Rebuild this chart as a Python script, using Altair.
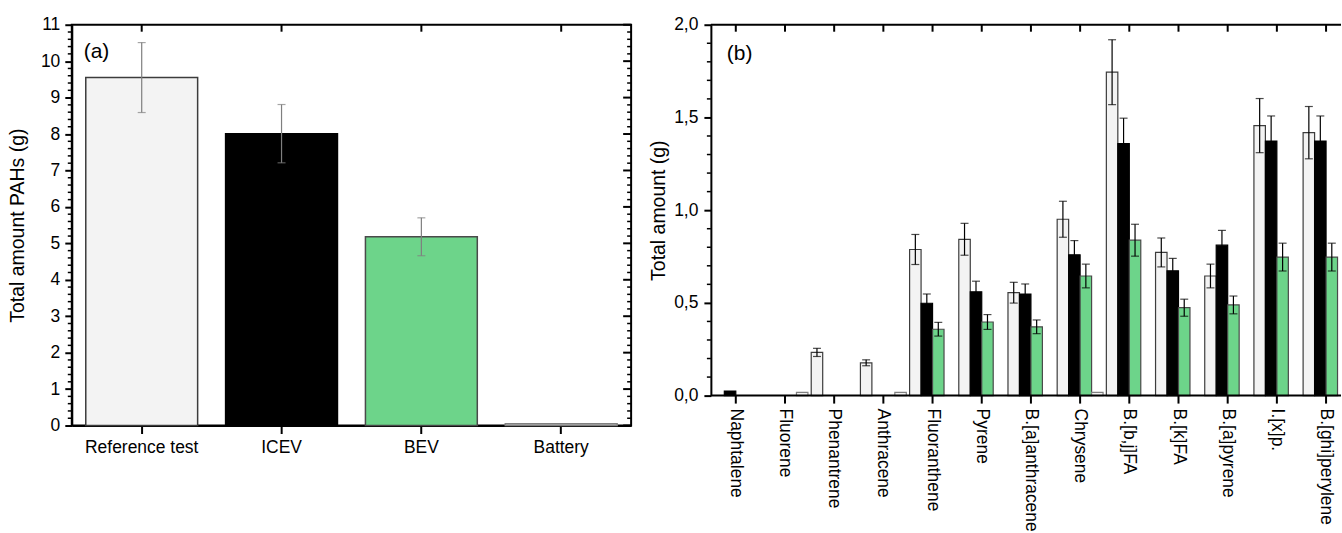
import altair as alt
import pandas as pd

# ---------------- Panel (a): total PAHs ----------------
groups = ["Reference test", "ICEV", "BEV", "Battery"]
total_vals = [9.55, 8.01, 5.18, 0.05]
total_err = [0.96, 0.80, 0.52, 0.0]

# ---------------- Panel (b): individual PAHs ----------------
compounds = ["Naphtalene", "Fluorene", "Phenantrene", "Anthracene", "Fluoranthene",
             "Pyrene", "B.[a]anthracene", "Chrysene", "B.[b,j]FA", "B.[k]FA",
             "B.[a]pyrene", "I.[x]p.", "B.[ghi]perylene"]
series = ["Reference test", "ICEV", "BEV", "Battery"]
ref_vals = [0.0, 0.0, 0.233, 0.177, 0.788, 0.843, 0.555, 0.951, 1.744, 0.772, 0.645, 1.456, 1.418]
ref_err = [0.0, 0.0, 0.022, 0.016, 0.081, 0.086, 0.056, 0.097, 0.175, 0.078, 0.064, 0.146, 0.141]
icev_vals = [0.025, 0.0, 0.0, 0.0, 0.498, 0.560, 0.548, 0.759, 1.359, 0.673, 0.811, 1.373, 1.373]
icev_err = [0.0, 0.0, 0.0, 0.0, 0.050, 0.057, 0.054, 0.077, 0.137, 0.067, 0.080, 0.135, 0.135]
bev_vals = [0.0, 0.0, 0.0, 0.0, 0.358, 0.397, 0.371, 0.645, 0.838, 0.474, 0.489, 0.747, 0.747]
bev_err = [0.0, 0.0, 0.0, 0.0, 0.037, 0.040, 0.037, 0.064, 0.086, 0.046, 0.048, 0.075, 0.075]
batt_vals = [0.0, 0.018, 0.0, 0.018, 0.0, 0.0, 0.0, 0.018, 0.0, 0.0, 0.0, 0.0, 0.0]
batt_err = [0.0] * 13

yticks_a = list(range(12))
yticks_b = [0.0, 0.5, 1.0, 1.5, 2.0]
minor_a = [round(i * 0.2, 1) for i in range(56) if i % 5 != 0]
minor_b = [round(i * 0.1, 1) for i in range(20) if i % 5 != 0]

fills = ["#f3f3f3", "#000000", "#6dd48a", "#f3f3f3"]
strokes_a = ["#3c3c3c", "#000000", "#4a4a4a", "#808080"]
strokes_b = ["#1e1e1e", "#000000", "#505050", "#333333"]

FONT = "Liberation Sans"
WA, HA = 561, 402
WB, HB = 632, 372        # visible part of panel (b); its category scale runs on past the edge
WB_FULL = 642

# ---------------- build panel (a) ----------------
dfa = pd.DataFrame({"group": groups, "value": total_vals, "err": total_err})
dfa["lo"] = dfa["value"] - dfa["err"]
dfa["hi"] = dfa["value"] + dfa["err"]
dfa_err = dfa[dfa["err"] > 0]
caps_a = pd.concat([
    dfa_err[["group", "lo"]].rename(columns={"lo": "value"}),
    dfa_err[["group", "hi"]].rename(columns={"hi": "value"}),
])

sx_a = alt.Scale(domain=groups, paddingInner=0.2, paddingOuter=0.1)
sy_a = alt.Scale(domain=[0, 11], nice=False)
ax_xa = alt.Axis(title=None, labelAngle=0, tickSize=8, tickWidth=2, domainWidth=2,
                 labelPadding=5, labelFontSize=17.5)
ax_ya = alt.Axis(title="Total amount PAHs (g)", values=yticks_a, tickSize=7, tickWidth=2,
                 domainWidth=2, labelPadding=5, labelFontSize=17.5, titleFontSize=19.5,
                 titlePadding=13)

def XA(f="group:N"):
    return alt.X(f, scale=sx_a, axis=ax_xa, sort=groups)

def YA(f):
    return alt.Y(f, scale=sy_a, axis=ax_ya)

bars_a = alt.Chart(dfa).mark_bar(strokeWidth=1.5).encode(
    x=XA(), y=YA("value:Q"),
    color=alt.Color("group:N", scale=alt.Scale(domain=groups, range=fills), legend=None),
    stroke=alt.Stroke("group:N", scale=alt.Scale(domain=groups, range=strokes_a), legend=None),
)
err_a = alt.Chart(dfa_err).mark_rule(color="#7f7f7f", strokeWidth=1.2).encode(
    x=XA(), y=YA("lo:Q"), y2="hi:Q")
cap_a = alt.Chart(caps_a).mark_tick(color="#7f7f7f", size=8, thickness=1.2).encode(
    x=XA(), y=YA("value:Q"))

top_a = alt.Chart(pd.DataFrame({"group": groups})).mark_rule(color="black", strokeWidth=2).encode(
    x=XA(), y=alt.value(0), y2=alt.value(7))
dfm_a = pd.DataFrame({"value": minor_a})
dfM_a = pd.DataFrame({"value": yticks_a})
minL_a = alt.Chart(dfm_a).mark_rule(color="black", strokeWidth=1.5).encode(
    y=YA("value:Q"), x=alt.value(-4), x2=alt.value(0))
minR_a = alt.Chart(dfm_a).mark_rule(color="black", strokeWidth=1.5).encode(
    y=YA("value:Q"), x=alt.value(WA - 4), x2=alt.value(WA))
majR_a = alt.Chart(dfM_a).mark_rule(color="black", strokeWidth=2).encode(
    y=YA("value:Q"), x=alt.value(WA - 8), x2=alt.value(WA))
lab_a = alt.Chart(pd.DataFrame({"t": ["(a)"]})).mark_text(
    align="left", baseline="alphabetic", fontSize=21, font=FONT, color="black").encode(
    text="t:N", x=alt.value(12), y=alt.value(33))

panel_a = alt.layer(bars_a, err_a, cap_a, top_a, minL_a, minR_a, majR_a, lab_a).properties(
    width=WA, height=HA)

# ---------------- build panel (b) ----------------
rows = []
for s, vals, errs in zip(series, [ref_vals, icev_vals, bev_vals, batt_vals],
                         [ref_err, icev_err, bev_err, batt_err]):
    for c, v, e in zip(compounds, vals, errs):
        rows.append({"compound": c, "series": s, "value": v, "err": e,
                     "lo": v - e, "hi": v + e})
dfb = pd.DataFrame(rows)
dfb_bars = dfb[dfb["value"] > 0]
dfb_err = dfb[dfb["err"] > 0]
caps_b = pd.concat([
    dfb_err[["compound", "series", "lo"]].rename(columns={"lo": "value"}),
    dfb_err[["compound", "series", "hi"]].rename(columns={"hi": "value"}),
])
dfc = pd.DataFrame({"compound": compounds})

sx_b = alt.Scale(domain=compounds, paddingInner=0.067, paddingOuter=0.04, range=[0, WB_FULL])
sy_b = alt.Scale(domain=[0, 2], nice=False)
ax_yb = alt.Axis(title="Total amount (g)", values=yticks_b, tickSize=7, tickWidth=2,
                 domainWidth=2, labelPadding=6, labelFontSize=17.5, titleFontSize=19.5,
                 titlePadding=5,
                 labelExpr="replace(format(datum.value, '.1f'), '.', ',')")
xoff = alt.XOffset("series:N", scale=alt.Scale(domain=series, paddingInner=0, paddingOuter=0))

def XB(f="compound:N"):
    return alt.X(f, scale=sx_b, axis=None, sort=compounds)

def YB(f):
    return alt.Y(f, scale=sy_b, axis=ax_yb)

bars_b = alt.Chart(dfb_bars).mark_bar(strokeWidth=1.2).encode(
    x=XB(), xOffset=xoff, y=YB("value:Q"),
    color=alt.Color("series:N", scale=alt.Scale(domain=series, range=fills), legend=None),
    stroke=alt.Stroke("series:N", scale=alt.Scale(domain=series, range=strokes_b), legend=None),
)
err_b = alt.Chart(dfb_err).mark_rule(color="black", strokeWidth=1.2).encode(
    x=XB(), xOffset=xoff, y=YB("lo:Q"), y2="hi:Q")
cap_b = alt.Chart(caps_b).mark_tick(color="black", size=8, thickness=1.2).encode(
    x=XB(), xOffset=xoff, y=YB("value:Q"))
top_b = alt.Chart(dfc).mark_rule(color="black", strokeWidth=2).encode(
    x=XB(), y=alt.value(0), y2=alt.value(7))
bot_b = alt.Chart(dfc).mark_rule(color="black", strokeWidth=2).encode(
    x=XB(), y=alt.value(HB), y2=alt.value(HB + 8))
xlab_b = alt.Chart(dfc).mark_text(
    angle=90, align="left", baseline="middle", fontSize=17.5, font=FONT, color="black").encode(
    x=XB(), y=alt.value(HB + 13), text="compound:N")
minL_b = alt.Chart(pd.DataFrame({"value": minor_b})).mark_rule(color="black", strokeWidth=1.5).encode(
    y=YB("value:Q"), x=alt.value(-4), x2=alt.value(0))
frame_b = alt.Chart(pd.DataFrame({"edge": ["top", "bottom"], "value": [2.0, 0.0]})).mark_rule(
    color="black", strokeWidth=2).encode(
    y=YB("value:Q"), x=alt.value(0), x2=alt.value(WB))
lab_b = alt.Chart(pd.DataFrame({"t": ["(b)"]})).mark_text(
    align="left", baseline="alphabetic", fontSize=21, font=FONT, color="black").encode(
    text="t:N", x=alt.value(16), y=alt.value(35))

panel_b = alt.layer(bars_b, err_b, cap_b, top_b, bot_b, xlab_b, minL_b, frame_b, lab_b).properties(
    width=WB, height=HB, view=alt.ViewBackground(strokeWidth=0))

chart = alt.hconcat(panel_a, panel_b, spacing=15).properties(
    padding={"left": 6, "top": 14, "right": 0, "bottom": 0},
    background="white"
).configure(font=FONT).configure_view(
    stroke="black", strokeWidth=2
).configure_axis(
    labelFont=FONT, titleFont=FONT, labelColor="black", titleColor="black",
    domainColor="black", tickColor="black", grid=False, titleFontWeight="normal"
)

chart.save("out.html", embed_options={"renderer": "svg", "actions": False})
